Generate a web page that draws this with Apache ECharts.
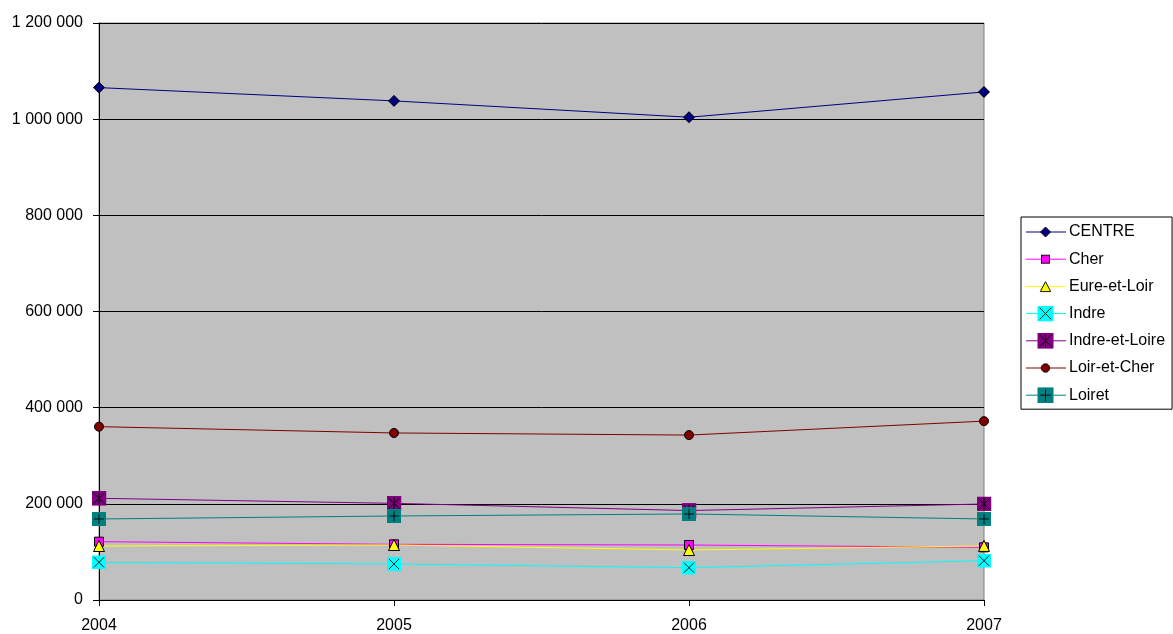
<!DOCTYPE html>
<html>
<head>
<meta charset="utf-8">
<script src="https://cdn.jsdelivr.net/npm/echarts@6/dist/echarts.min.js"></script>
<style>
html,body{margin:0;padding:0;background:#fff;}
#chart{width:1173px;height:634px;}
</style>
</head>
<body>
<div id="chart"></div>
<script>
var years = ['2004', '2005', '2006', '2007'];
var seriesNames = ['CENTRE', 'Cher', 'Eure-et-Loir', 'Indre', 'Indre-et-Loire', 'Loir-et-Cher', 'Loiret'];
var centre = [1065600, 1038000, 1004000, 1056600];
var cher = [121300, 115800, 114400, 109500];
var eureEtLoir = [112300, 114400, 104000, 112500];
var indre = [78400, 74900, 67200, 81700];
var indreEtLoire = [211500, 201000, 186000, 199700];
var loirEtCher = [360500, 347400, 343000, 372000];
var loiret = [168500, 174700, 178900, 168500];
var yTicks = [0, 200000, 400000, 600000, 800000, 1000000, 1200000];

function svgURL(w, h, body) {
  var svg = '<svg xmlns="http://www.w3.org/2000/svg" width="' + (w * 2) + '" height="' + (h * 2) + '" viewBox="0 0 ' + w + ' ' + h + '">' + body + '</svg>';
  return 'image://data:image/svg+xml;charset=utf-8,' + encodeURIComponent(svg);
}
function shapeIndre(cx, cy, r) {
  return '<rect x="' + (cx - r) + '" y="' + (cy - r) + '" width="' + (2 * r) + '" height="' + (2 * r) + '" fill="#00FFFF"/>' +
    '<path d="M' + (cx - r * 0.72) + ' ' + (cy - r * 0.72) + 'L' + (cx + r * 0.72) + ' ' + (cy + r * 0.72) + 'M' + (cx + r * 0.72) + ' ' + (cy - r * 0.72) + 'L' + (cx - r * 0.72) + ' ' + (cy + r * 0.72) + '" stroke="#000" stroke-width="0.9" fill="none"/>';
}
function shapeIEL(cx, cy, r) {
  return '<rect x="' + (cx - r) + '" y="' + (cy - r) + '" width="' + (2 * r) + '" height="' + (2 * r) + '" fill="#800080"/>' +
    '<path d="M' + (cx - r * 0.72) + ' ' + (cy - r * 0.72) + 'L' + (cx + r * 0.72) + ' ' + (cy + r * 0.72) + 'M' + (cx + r * 0.72) + ' ' + (cy - r * 0.72) + 'L' + (cx - r * 0.72) + ' ' + (cy + r * 0.72) + 'M' + cx + ' ' + (cy - r * 0.8) + 'L' + cx + ' ' + (cy + r * 0.8) + '" stroke="#000" stroke-width="0.9" fill="none"/>';
}
function shapeLoiret(cx, cy, r) {
  return '<rect x="' + (cx - r) + '" y="' + (cy - r) + '" width="' + (2 * r) + '" height="' + (2 * r) + '" fill="#008080"/>' +
    '<path d="M' + cx + ' ' + (cy - r * 0.72) + 'L' + cx + ' ' + (cy + r * 0.72) + 'M' + (cx - r * 0.72) + ' ' + cy + 'L' + (cx + r * 0.72) + ' ' + cy + '" stroke="#000" stroke-width="0.9" fill="none"/>';
}
function shapeDiamond(cx, cy, r, fill) {
  return '<path d="M' + cx + ' ' + (cy - r) + 'L' + (cx + r) + ' ' + cy + 'L' + cx + ' ' + (cy + r) + 'L' + (cx - r) + ' ' + cy + 'Z" fill="' + fill + '" stroke="#000" stroke-width="0.9"/>';
}
function shapeSquare(cx, cy, r, fill) {
  return '<rect x="' + (cx - r) + '" y="' + (cy - r) + '" width="' + (2 * r) + '" height="' + (2 * r) + '" fill="' + fill + '" stroke="#000" stroke-width="0.9"/>';
}
function shapeTriangle(cx, cy, r, fill) {
  return '<path d="M' + cx + ' ' + (cy - r) + 'L' + (cx + r) + ' ' + (cy + r * 0.9) + 'L' + (cx - r) + ' ' + (cy + r * 0.9) + 'Z" fill="' + fill + '" stroke="#000" stroke-width="0.9"/>';
}
function shapeCircle(cx, cy, r, fill) {
  return '<circle cx="' + cx + '" cy="' + cy + '" r="' + r + '" fill="' + fill + '" stroke="#000" stroke-width="0.9"/>';
}

var symIndre = svgURL(14, 14, shapeIndre(7, 7, 7));
var symIEL = svgURL(14, 14, shapeIEL(7, 7, 7));
var symLoiret = svgURL(14, 14, shapeLoiret(7, 7, 7));

var colors = ['#000080', '#FF00FF', '#FFFF00', '#00FFFF', '#800080', '#800000', '#008080'];
var legendShapes = [
  function (c) { return shapeDiamond(19.5, 8, 5, c); },
  function (c) { return shapeSquare(19.5, 8, 4, c); },
  function (c) { return shapeTriangle(19.5, 8.5, 5.2, c); },
  function () { return shapeIndre(19.5, 8, 8); },
  function () { return shapeIEL(19.5, 8, 8); },
  function (c) { return shapeCircle(19.5, 8, 4.2, c); },
  function () { return shapeLoiret(19.5, 8, 8); }
];
var legendData = seriesNames.map(function (n, i) {
  var body = '<line x1="0" y1="8" x2="40" y2="8" stroke="' + colors[i] + '" stroke-width="1"/>' + legendShapes[i](colors[i]);
  return {name: n, icon: svgURL(40, 16, body)};
});

var defs = [
  {data: centre, symbol: 'diamond', size: 11, border: true},
  {data: cher, symbol: 'rect', size: 9, border: true},
  {data: eureEtLoir, symbol: 'triangle', size: 11, border: true},
  {data: indre, symbol: symIndre, size: 14, border: false},
  {data: indreEtLoire, symbol: symIEL, size: 15, border: false},
  {data: loirEtCher, symbol: 'circle', size: 9, border: true},
  {data: loiret, symbol: symLoiret, size: 14, border: false}
];

var series = defs.map(function (d, i) {
  return {
    name: seriesNames[i],
    type: 'line',
    data: d.data,
    symbol: d.symbol,
    symbolSize: d.size,
    showAllSymbol: true,
    animation: false,
    lineStyle: {color: colors[i], width: 1},
    itemStyle: {color: colors[i], borderColor: d.border ? '#000' : colors[i], borderWidth: d.border ? 1 : 0}
  };
});

function fmt(v) {
  return String(v).replace(/\B(?=(\d{3})+(?!\d))/g, ' ');
}

var FONT = 'Liberation Sans, Arial, sans-serif';
var chart = echarts.init(document.getElementById('chart'), null, {renderer: 'canvas'});
chart.setOption({
  backgroundColor: '#ffffff',
  animation: false,
  textStyle: {fontFamily: FONT},
  grid: {
    left: 99, right: 189, top: 23, bottom: 34,
    show: true, backgroundColor: '#C0C0C0', borderColor: '#808080', borderWidth: 1
  },
  legend: {
    orient: 'vertical',
    left: 1021, top: 217,
    backgroundColor: '#ffffff',
    borderColor: '#000000',
    borderWidth: 1,
    borderRadius: 0,
    padding: [7, 7, 6, 5],
    itemGap: 11.2,
    itemWidth: 40,
    itemHeight: 16,
    textStyle: {fontSize: 16, color: '#000', fontFamily: FONT, padding: [0, 0, 0, -2]},
    data: legendData
  },
  xAxis: {
    type: 'category',
    data: years,
    boundaryGap: false,
    axisLine: {show: true, lineStyle: {color: '#000', width: 1}},
    axisTick: {show: true, length: 6, inside: false, lineStyle: {color: '#000'}},
    axisLabel: {fontSize: 16, color: '#000', margin: 18, fontFamily: FONT},
    splitLine: {show: false}
  },
  yAxis: {
    type: 'value',
    min: yTicks[0],
    max: yTicks[yTicks.length - 1],
    interval: yTicks[1] - yTicks[0],
    axisLine: {show: true, lineStyle: {color: '#000', width: 1}},
    axisTick: {show: true, length: 6, lineStyle: {color: '#000'}},
    axisLabel: {fontSize: 16, color: '#000', margin: 16, formatter: fmt, fontFamily: FONT},
    splitLine: {show: true, lineStyle: {color: '#000', width: 1}}
  },
  series: series
});
</script>
</body>
</html>
